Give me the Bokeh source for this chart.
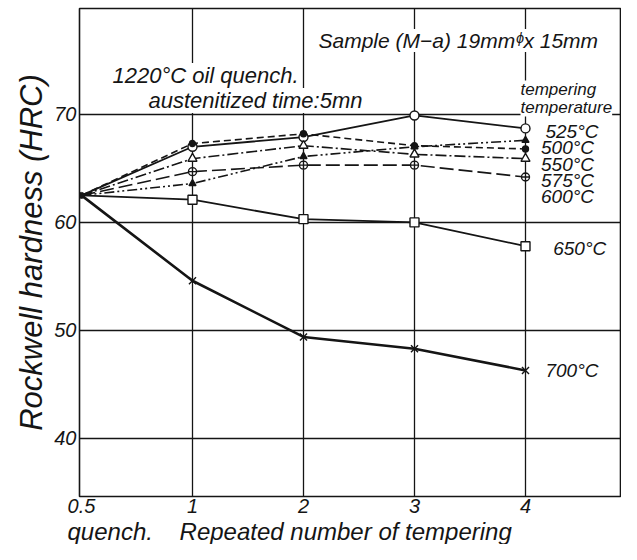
from math import pi
from bokeh.plotting import figure
from bokeh.models import Label, FixedTicker, ColumnDataSource, Title
from bokeh.core.properties import value
from bokeh.embed import file_html
from bokeh.resources import INLINE

# ---- data ----
x_pos = [0, 1, 2, 3, 4]
x_tick_labels = {0: "0.5", 1: "1", 2: "2", 3: "3", 4: "4"}
y_ticks = [40, 50, 60, 70]

t525 = [62.5, 67.0, 67.9, 69.9, 68.7]
t500 = [62.5, 67.3, 68.2, 67.1, 66.8]
t550 = [62.5, 65.9, 67.1, 66.3, 65.9]
t575 = [62.5, 64.7, 65.3, 65.3, 64.2]
t600 = [62.5, 63.6, 66.1, 67.0, 67.6]
t650 = [62.5, 62.1, 60.3, 60.0, 57.8]
t700 = [62.5, 54.6, 49.4, 48.3, 46.3]

label_text = ["525°C", "500°C", "550°C", "575°C", "600°C", "650°C", "700°C"]
label_x = [4.18, 4.14, 4.14, 4.14, 4.14, 4.25, 4.18]
label_y = [68.4, 66.9, 65.4, 63.9, 62.4, 57.6, 46.3]

FONT = "Liberation Sans"
INK = "#151515"
NB = "\u00a0"

# frame: left 79, top 8, width 542, height 488 (canvas 621 x 544)
p = figure(width=621, height=544, x_range=(-0.018, 4.865), y_range=(34.63, 79.8),
           output_backend="svg", toolbar_location=None,
           min_border_left=79, min_border_right=0, min_border_top=8, min_border_bottom=48)
p.background_fill_color = "white"
p.border_fill_color = "white"
p.outline_line_color = INK
p.outline_line_width = 1.6

p.xgrid.ticker = FixedTicker(ticks=[1, 2, 3, 4])
p.ygrid.ticker = FixedTicker(ticks=y_ticks)
for g in (p.xgrid, p.ygrid):
    g.grid_line_color = INK
    g.grid_line_width = 1.3
    g.grid_line_alpha = 1.0

p.xaxis.ticker = FixedTicker(ticks=x_pos)
p.xaxis.major_label_overrides = x_tick_labels
p.yaxis.ticker = FixedTicker(ticks=y_ticks)
for ax in (p.xaxis, p.yaxis):
    ax.axis_line_color = None
    ax.major_tick_line_color = None
    ax.minor_tick_line_color = None
    ax.major_tick_out = 0
    ax.major_tick_in = 0
    ax.major_label_text_font = FONT
    ax.major_label_text_font_style = "italic"
    ax.major_label_text_font_size = "20px"
    ax.major_label_text_color = INK
p.xaxis.major_label_standoff = 2
p.yaxis.major_label_standoff = 3

p.yaxis.axis_label = "Rockwell hardness (HRC)"
p.yaxis.axis_label_text_font = FONT
p.yaxis.axis_label_text_font_style = "italic"
p.yaxis.axis_label_text_font_size = "31px"
p.yaxis.axis_label_text_color = INK
p.yaxis.axis_label_standoff = 2

xtitle = Title(text="quench." + NB * 4 + "Repeated number of tempering",
               align="left", offset=-12, standoff=0,
               text_font=FONT, text_font_style="italic", text_font_size="24px",
               text_color=INK)
p.add_layout(xtitle, "below")

# ---- series ----
def series(y, dash, width, marker, size, fill):
    p.line(x_pos, y, line_color=INK, line_width=width, line_dash=dash)
    p.scatter(x_pos[1:], y[1:], marker=marker, size=size, line_color=INK,
              fill_color=fill, line_width=1.4)

series(t525, "solid", 1.8, "circle", 9, "white")
series(t500, "7 4", 1.6, "circle", 6, INK)
series(t550, "11 3 2 3", 1.6, "triangle", 9, "white")
series(t575, "14 5", 1.6, "circle_cross", 8, "white")
series(t600, "10 3 2 3 2 3", 1.6, "triangle", 7, INK)
series(t650, "solid", 1.8, "square", 9, "white")
series(t700, "solid", 2.6, "x", 10, None)
p.scatter([0], [62.5], marker="circle", size=6, color=INK)

src = ColumnDataSource(dict(x=label_x, y=label_y, t=label_text))
p.text(x="x", y="y", text="t", source=src, text_font=value(FONT),
       text_font_style="italic", text_font_size="19px", text_color=INK,
       text_baseline="middle", text_align="left")

# ---- annotations (screen units relative to frame: x from left, y from bottom) ----
def lab(txt, x, y, size, bg="white", lh=1.2):
    p.add_layout(Label(x=x, y=y, x_units="screen", y_units="screen", text=txt,
                       text_font=FONT, text_font_style="italic",
                       text_font_size=size, text_color=INK, text_align="left",
                       text_baseline="middle", text_line_height=lh,
                       background_fill_color=bg))

lab("Sample (M−a) 19mmᶲx 15mm", 239, 456, "21px")
lab("1220°C oil quench.", 33, 421, "22px")
lab("austenitized time:5mn", 69, 396, "22px")
lab("tempering\ntemperature", 441, 398, "17px", lh=0.9)

open("out.html", "w").write(file_html(p, INLINE))
